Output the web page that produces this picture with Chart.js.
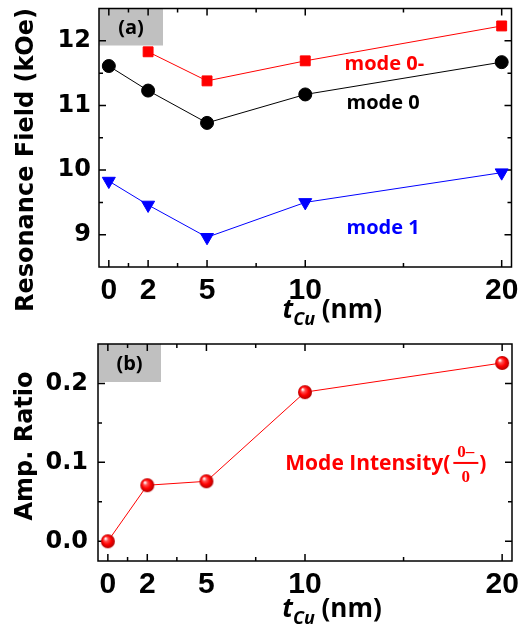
<!DOCTYPE html>
<html>
<head>
<meta charset="utf-8">
<script src="https://cdn.jsdelivr.net/npm/chart.js@4"></script>
<style>
  html, body { margin: 0; padding: 0; background: #fff; }
  #wrap { position: relative; width: 520px; height: 627px; }
  #top { position: absolute; left: 0; top: 0; }
  #bottom { position: absolute; left: 0; top: 330px; }
</style>
</head>
<body>
<div id="wrap">
  <canvas id="top" width="520" height="330"></canvas>
  <canvas id="bottom" width="520" height="297"></canvas>
</div>
<script>
'use strict';

// ---- data ----
const thickness = [0, 2, 5, 10, 20];            // t_Cu (nm)
const mode0minus = [null, 11.83, 11.38, 11.69, 12.23];
const mode0 = [11.61, 11.23, 10.73, 11.17, 11.67];
const mode1 = [9.83, 9.46, 8.96, 9.50, 9.96];
const ampRatio = [0.0, 0.071, 0.076, 0.189, 0.226];

// ---- ticks ----
const xTicks = [0, 2, 5, 10, 20];
const xMinorTicks = [1, 3.5, 7.5, 15];
const yTicksTop = [9, 10, 11, 12];
const yMinorTop = [9.5, 10.5, 11.5];
const yTicksBottom = [0, 0.1, 0.2];
const yMinorBottom = [0.05, 0.15];

// text labels in data coords (x, baseline y)
const modeLabels = [
  { text: 'mode 0-', x: 12, y: 11.55, color: '#ff0000' },
  { text: 'mode 0', x: 12.1, y: 10.94, color: '#000000' },
  { text: 'mode 1', x: 12.1, y: 9.01, color: '#0000ff' },
];

const pts = (ys) => thickness.map((x, i) => ({ x, y: ys[i] })).filter(p => p.y !== null);

// ---- shaded red ball for panel (b) ----
function makeBall(r) {
  const c = document.createElement('canvas');
  c.width = c.height = r * 2 + 2;
  const g = c.getContext('2d');
  const cx = r + 1, cy = r + 1;
  const grad = g.createRadialGradient(cx - r * 0.35, cy - r * 0.4, 0.5, cx, cy, r);
  grad.addColorStop(0, '#ffffff');
  grad.addColorStop(0.25, '#ff5050');
  grad.addColorStop(0.6, '#ff0000');
  grad.addColorStop(1, '#b00000');
  g.fillStyle = grad;
  g.beginPath(); g.arc(cx, cy, r, 0, Math.PI * 2); g.fill();
  return c;
}

// ---- frame, inward ticks, tag box, titles ----
const framePlugin = {
  id: 'frame',
  beforeDatasetsDraw(chart, args, o) {
    const { ctx, chartArea: a, scales: { x, y } } = chart;
    ctx.save();
    ctx.fillStyle = '#c0c0c0';
    ctx.fillRect(a.left, a.top, o.boxW, o.boxH);
    ctx.fillStyle = '#000';
    ctx.font = 'bold 20px "Open Sans"';
    ctx.textAlign = 'center';
    ctx.textBaseline = 'middle';
    ctx.fillText(o.tag, a.left + o.boxW / 2, a.top + o.boxH / 2 + 1);

    ctx.strokeStyle = '#000';
    ctx.lineWidth = 1.5;
    ctx.strokeRect(a.left, a.top, a.right - a.left, a.bottom - a.top);
    ctx.beginPath();
    const xt = (v, len) => {
      const p = x.getPixelForValue(v);
      ctx.moveTo(p, a.bottom); ctx.lineTo(p, a.bottom - len);
      ctx.moveTo(p, a.top); ctx.lineTo(p, a.top + len);
    };
    const yt = (v, len) => {
      const p = y.getPixelForValue(v);
      ctx.moveTo(a.left, p); ctx.lineTo(a.left + len, p);
      ctx.moveTo(a.right, p); ctx.lineTo(a.right - len, p);
    };
    xTicks.forEach(v => xt(v, 7));
    xMinorTicks.forEach(v => xt(v, 4));
    o.yMajor.forEach(v => yt(v, 7));
    o.yMinor.forEach(v => yt(v, 4));
    ctx.stroke();
    ctx.restore();
  },
  afterDraw(chart, args, o) {
    const { ctx, chartArea: a } = chart;
    ctx.save();
    // y title
    ctx.translate(o.yTitleX, o.yTitleY);
    ctx.rotate(-Math.PI / 2);
    ctx.font = 'bold 24px "DejaVu Sans"';
    ctx.fillStyle = '#000';
    ctx.textAlign = 'center';
    ctx.textBaseline = 'middle';
    ctx.fillText(o.yTitle, 0, 0);
    ctx.restore();

    // x title: t_Cu (nm)
    ctx.save();
    ctx.fillStyle = '#000';
    ctx.textBaseline = 'alphabetic';
    ctx.textAlign = 'left';
    const fT = 'italic bold 26px "Open Sans"';
    const fS = 'italic bold 18px "Open Sans"';
    const fN = 'bold 26px "Open Sans"';
    ctx.font = fT; const wT = ctx.measureText('t').width;
    ctx.font = fS; const wS = ctx.measureText('Cu').width;
    ctx.font = fN; const wN = ctx.measureText(' (nm)').width;
    let cx = (a.left + a.right) / 2 + 27 - (wT + wS + wN) / 2;
    const by = o.xTitleY;
    ctx.font = fT; ctx.fillText('t', cx, by); cx += wT;
    ctx.font = fS; ctx.fillText('Cu', cx, by + 7); cx += wS;
    ctx.font = fN; ctx.fillText(' (nm)', cx, by);
    ctx.restore();
  }
};

// mode labels / intensity label
const notesPlugin = {
  id: 'notes',
  afterDatasetsDraw(chart, args, o) {
    const { ctx, scales: { x, y } } = chart;
    ctx.save();
    ctx.textBaseline = 'alphabetic';
    ctx.textAlign = 'left';
    if (o.kind === 'modes') {
      ctx.font = 'bold 20px "Open Sans"';
      modeLabels.forEach(l => {
        ctx.fillStyle = l.color;
        ctx.fillText(l.text, x.getPixelForValue(l.x), y.getPixelForValue(l.y));
      });
    } else {
      const px = x.getPixelForValue(9.0), py = y.getPixelForValue(0.0904);
      ctx.fillStyle = '#ff0000';
      ctx.font = 'bold 21px "Open Sans"';
      const s = 'Mode Intensity(';
      ctx.fillText(s, px, py);
      let cx = px + ctx.measureText(s).width + 3;
      ctx.font = 'bold 17px "Liberation Serif"';
      ctx.textAlign = 'center';
      const fw = 25;
      ctx.fillText('0\u2013', cx + fw / 2, py - 13);
      ctx.fillText('0', cx + fw / 2, py + 12);
      ctx.fillRect(cx, py - 8, fw, 2);
      ctx.textAlign = 'left';
      ctx.font = 'bold 21px "Open Sans"';
      ctx.fillText(')', cx + fw + 1, py);
    }
    ctx.restore();
  }
};

function xScale(height) {
  return {
    type: 'linear', min: -0.5, max: 20.5,
    grid: { display: false, drawTicks: false },
    border: { display: false },
    afterBuildTicks: (s) => { s.ticks = xTicks.map(v => ({ value: v })); },
    afterFit: (s) => { s.height = height; s.paddingLeft = 0; s.paddingRight = 0; },
    ticks: {
      color: '#000', padding: 6, maxRotation: 0, autoSkip: false,
      font: { family: 'Liberation Sans', weight: 'bold', size: 30 },
      callback: (v) => String(v)
    }
  };
}

function yScale(min, max, ticks, width, pad, fmt) {
  return {
    min, max,
    grid: { display: false, drawTicks: false },
    border: { display: false },
    afterBuildTicks: (s) => { s.ticks = ticks.map(v => ({ value: v })); },
    afterFit: (s) => { s.width = width; s.paddingTop = 0; s.paddingBottom = 0; },
    ticks: {
      color: '#000', padding: pad,
      font: { family: 'DejaVu Sans', weight: 'bold', size: 24 },
      callback: fmt
    }
  };
}

// ---- panel (a) ----
new Chart(document.getElementById('top'), {
  type: 'line',
  data: {
    datasets: [
      { label: 'mode 0-', data: pts(mode0minus), borderColor: '#ff0000', backgroundColor: '#ff0000',
        borderWidth: 1, pointStyle: 'rect', pointRadius: 7, pointHoverRadius: 7 },
      { label: 'mode 0', data: pts(mode0), borderColor: '#000000', backgroundColor: '#000000',
        borderWidth: 1, pointStyle: 'circle', pointRadius: 6.5, pointHoverRadius: 6.5 },
      { label: 'mode 1', data: pts(mode1), borderColor: '#0000ff', backgroundColor: '#0000ff',
        borderWidth: 1, pointStyle: 'triangle', pointRotation: 180, pointRadius: 7.5, pointHoverRadius: 7.5 },
    ]
  },
  options: {
    responsive: false, animation: false,
    layout: { padding: { top: 7, right: 6, left: 0, bottom: 0 } },
    elements: { line: { tension: 0 }, point: { borderWidth: 0 } },
    clip: false,
    plugins: {
      legend: { display: false }, tooltip: { enabled: false },
      frame: { tag: '(a)', boxW: 64, boxH: 37, yMajor: yTicksTop, yMinor: yMinorTop,
        yTitle: 'Resonance Field (kOe)', yTitleX: 27, yTitleY: 160, xTitleY: 318 },
      notes: { kind: 'modes' }
    },
    scales: {
      x: xScale(63),
      y: yScale(8.5, 12.5, yTicksTop, 99, 8, (v) => String(v))
    }
  },
  plugins: [framePlugin, notesPlugin]
});

// ---- panel (b) ----
new Chart(document.getElementById('bottom'), {
  type: 'line',
  data: {
    datasets: [
      { label: 'Amp. Ratio', data: pts(ampRatio), borderColor: '#ff0000', backgroundColor: '#ff0000',
        borderWidth: 1, pointStyle: makeBall(7), pointRadius: 7 },
    ]
  },
  options: {
    responsive: false, animation: false,
    layout: { padding: { top: 14, right: 8, left: 0, bottom: 0 } },
    elements: { line: { tension: 0 } },
    clip: false,
    plugins: {
      legend: { display: false }, tooltip: { enabled: false },
      frame: { tag: '(b)', boxW: 63, boxH: 38, yMajor: yTicksBottom, yMinor: yMinorBottom,
        yTitle: 'Amp. Ratio', yTitleX: 26, yTitleY: 116, xTitleY: 287 },
      notes: { kind: 'ratio' }
    },
    scales: {
      x: xScale(66),
      y: yScale(-0.025, 0.25, yTicksBottom, 98, 10, (v) => Number(v).toFixed(1))
    }
  },
  plugins: [framePlugin, notesPlugin]
});
</script>
</body>
</html>
